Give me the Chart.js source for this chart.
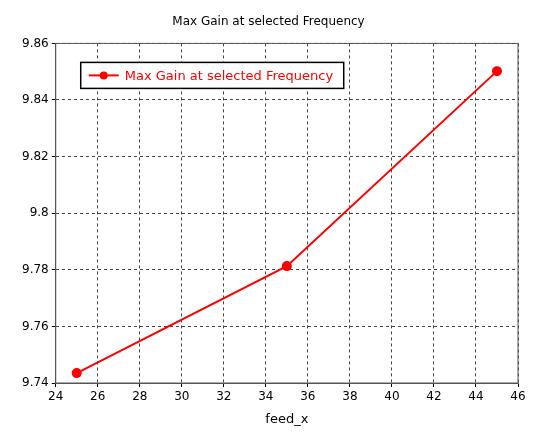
<!DOCTYPE html>
<html><head><meta charset="utf-8">
<script src="https://cdn.jsdelivr.net/npm/chart.js@4"></script>
<style>html,body{margin:0;padding:0;background:#fff}#w{width:548px;height:435px}</style>
</head><body><div id="w"><canvas id="c"></canvas></div>
<script>
const xValues = [25, 35, 45];
const gainValues = [9.7435, 9.7813, 9.8502];
const seriesLabel = 'Max Gain at selected Frequency';
const titleText = 'Max Gain at selected Frequency';
const xTitle = 'feed_x';

const legendBox = {
  id: 'legendBox',
  afterDraw(chart) {
    const c = chart.ctx, a = chart.chartArea;
    c.save();
    c.strokeStyle = '#555'; c.lineWidth = 1; c.setLineDash([]);
    c.strokeRect(a.left, a.top, a.right - a.left, a.bottom - a.top);
    const x = a.left + 25, y = a.top + 19, w = 263, h = 26;
    c.fillStyle = '#fff'; c.fillRect(x, y, w, h);
    c.strokeStyle = '#000'; c.lineWidth = 1.5; c.strokeRect(x, y, w, h);
    c.strokeStyle = '#ff0000'; c.lineWidth = 2;
    c.beginPath(); c.moveTo(x + 8, y + h/2); c.lineTo(x + 38, y + h/2); c.stroke();
    c.fillStyle = '#ff0000'; c.beginPath(); c.arc(x + 23, y + h/2, 4, 0, Math.PI*2); c.fill();
    c.font = '13px "DejaVu Sans"'; c.textBaseline = 'middle';
    c.fillText(seriesLabel, x + 44, y + h/2 + 1);
    c.restore();
  }
};

new Chart(document.getElementById('c'), {
  type: 'line',
  data: { datasets: [{ label: seriesLabel, data: xValues.map((x, i) => ({x, y: gainValues[i]})),
    borderColor: '#ff0000', backgroundColor: '#ff0000', borderWidth: 2, pointRadius: 4, tension: 0 }] },
  options: {
    responsive: true, maintainAspectRatio: false, animation: false,
    layout: { padding: { top: 9, right: 30, left: 19, bottom: 4 } },
    plugins: {
      legend: { display: false },
      title: { display: true, text: titleText, color: '#000', font: { family: 'DejaVu Sans', size: 12, weight: 'normal' }, padding: { top: 6, bottom: 14 } }
    },
    scales: {
      x: { type: 'linear', min: 24, max: 46, ticks: { stepSize: 2, color: '#000', font: { family: 'DejaVu Sans', size: 12 } },
        grid: { color: '#444', tickLength: 4, tickColor: '#000' }, border: { display: true, color: '#555', dash: [3,3] },
        title: { display: true, text: xTitle, color: '#000', font: { family: 'DejaVu Sans', size: 13 } } },
      y: { min: 9.74, max: 9.86, ticks: { stepSize: 0.02, color: '#000', font: { family: 'DejaVu Sans', size: 12 },
          callback: v => String(parseFloat(v.toFixed(2))) },
        grid: { color: '#444', tickLength: 4, tickColor: '#000' }, border: { display: true, color: '#555', dash: [3,3] } }
    }
  },
  plugins: [legendBox]
});
</script></body></html>
